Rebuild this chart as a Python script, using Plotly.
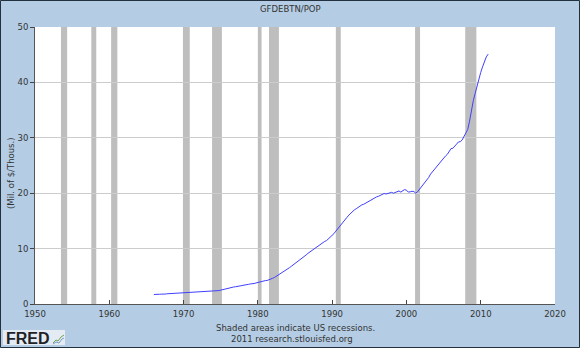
import pandas as pd
import plotly.graph_objects as go

# Federal debt per person (thousands of dollars), quarterly from 1966Q1
debt_per_person = [
    1.72, 1.70, 1.73, 1.76,
    1.78, 1.74, 1.79, 1.84,
    1.86, 1.84, 1.88, 1.91,
    1.92, 1.88, 1.91, 1.95,
    1.96, 1.95, 1.99, 2.03,
    2.04, 2.05, 2.09, 2.13,
    2.14, 2.13, 2.17, 2.21,
    2.24, 2.23, 2.26, 2.30,
    2.32, 2.31, 2.36, 2.42,
    2.50, 2.60, 2.70, 2.80,
    2.88, 2.93, 3.00, 3.07,
    3.12, 3.14, 3.22, 3.30,
    3.37, 3.39, 3.45, 3.55,
    3.62, 3.63, 3.70, 3.80,
    3.90, 3.95, 4.05, 4.15,
    4.22, 4.25, 4.35, 4.50,
    4.65, 4.80, 5.00, 5.25,
    5.45, 5.70, 5.90, 6.15,
    6.35, 6.55, 6.80, 7.05,
    7.25, 7.45, 7.70, 8.05,
    8.30, 8.55, 8.85, 9.15,
    9.40, 9.60, 9.85, 10.15,
    10.40, 10.60, 10.85, 11.10,
    11.30, 11.45, 11.75, 12.05,
    12.35, 12.70, 13.15, 13.60,
    13.95, 14.35, 14.85, 15.30,
    15.65, 16.05, 16.40, 16.75,
    17.00, 17.20, 17.45, 17.70,
    17.90, 18.00, 18.20, 18.40,
    18.55, 18.70, 18.85, 19.10,
    19.35, 19.45, 19.60, 19.80,
    19.95, 19.85, 19.95, 20.10,
    20.15, 20.00, 20.10, 20.30,
    20.40, 20.20, 20.45, 20.65,
    20.55, 20.20, 20.25, 20.35,
    20.30, 20.00, 20.25, 20.65,
    21.05, 21.45, 21.85, 22.35,
    22.85, 23.45, 23.85, 24.30,
    24.75, 25.05, 25.50, 26.00,
    26.45, 26.70, 27.00, 27.55,
    28.05, 28.10, 28.40, 28.85,
    29.25, 29.30, 29.60, 30.20,
    30.80, 31.50, 33.00, 35.10,
    36.70, 38.00, 39.40, 40.70,
    41.80, 42.80, 43.80, 44.60,
    45.10,
]
quarters = pd.date_range("1966-01-01", periods=len(debt_per_person), freq="QS")

# US recessions (NBER peak -> trough)
recession_start = ["1953-07-01", "1957-08-01", "1960-04-01", "1969-12-01", "1973-11-01",
                   "1980-01-01", "1981-07-01", "1990-07-01", "2001-03-01", "2007-12-01"]
recession_end = ["1954-05-01", "1958-04-01", "1961-02-01", "1970-11-01", "1975-03-01",
                 "1980-07-01", "1982-11-01", "1991-03-01", "2001-11-01", "2009-06-01"]

y_ticks = [0, 10, 20, 30, 40, 50]
x_ticks = ["1950", "1960", "1970", "1980", "1990", "2000", "2010", "2020"]

W, H = 580, 348
ML, MR, MT, MB = 35, 25, 27, 44
PW, PH = W - ML - MR, H - MT - MB

def px_x(p):
    return (p - ML) / PW

def px_y(p):
    return (H - MB - p) / PH

FONT = "DejaVu Sans"
TXT = "#333333"

fig = go.Figure()
fig.add_trace(go.Scatter(
    x=quarters, y=debt_per_person, mode="lines",
    line=dict(color="#4040ff", width=1), hoverinfo="skip", showlegend=False,
))

shapes = []
for s, e in zip(recession_start, recession_end):
    shapes.append(dict(type="rect", xref="x", yref="paper", x0=s, x1=e, y0=0, y1=1,
                       fillcolor="#bebebe", line=dict(width=0), layer="between"))

# outer frame of the whole graphic
shapes.append(dict(type="rect", xref="paper", yref="paper",
                   x0=px_x(0.5), x1=px_x(W - 0.5), y0=px_y(H - 0.5), y1=px_y(0.5),
                   line=dict(color="#23303d", width=1), fillcolor="rgba(0,0,0,0)", layer="above"))

# FRED badge
shapes.append(dict(type="rect", xref="paper", yref="paper",
                   x0=px_x(3), x1=px_x(65), y0=px_y(345), y1=px_y(330),
                   line=dict(width=0), fillcolor="#e4ebf2", layer="above"))
shapes.append(dict(type="path", xref="paper", yref="paper",
                   path=f"M {px_x(53)} {px_y(343)} L {px_x(56)} {px_y(340)} L {px_x(58)} {px_y(341)} "
                        f"L {px_x(61)} {px_y(337)} L {px_x(64)} {px_y(335)}",
                   line=dict(color="#6fa35a", width=1), layer="above"))
shapes.append(dict(type="path", xref="paper", yref="paper",
                   path=f"M {px_x(53)} {px_y(344)} L {px_x(56)} {px_y(342)} L {px_x(59)} {px_y(343)} "
                        f"L {px_x(62)} {px_y(339)} L {px_x(64)} {px_y(338)}",
                   line=dict(color="#7a9cc8", width=1), layer="above"))

def label(text, x, y, size=8.5, angle=0, family=FONT, color=TXT, xanchor="center"):
    return dict(text=text, xref="paper", yref="paper", x=px_x(x), y=px_y(y),
                xanchor=xanchor, yanchor="middle", showarrow=False, textangle=angle,
                font=dict(family=family, size=size, color=color))

annotations = [
    label("GFDEBTN/POP", 290, 9),
    label("(Mil. of $/Thous.)", 11, 173, angle=-90),
    label("Shaded areas indicate US recessions.", 295, 328),
    label("2011 research.stlouisfed.org", 292, 339),
    label("<b>FRED</b>", 4, 338, size=16, family="Liberation Sans", color="#1f2327",
          xanchor="left"),
]

fig.update_layout(
    width=W, height=H,
    margin=dict(l=ML, r=MR, t=MT, b=MB, pad=0),
    paper_bgcolor="#b4cde4", plot_bgcolor="#ffffff",
    shapes=shapes, annotations=annotations,
    xaxis=dict(
        type="date", range=["1950-01-01", "2020-01-01"],
        tickvals=[f"{t}-01-01" for t in x_ticks], ticktext=x_ticks,
        ticks="inside", ticklen=4, tickcolor="#444444",
        showline=True, linecolor="#555555", linewidth=1,
        showgrid=False, zeroline=False, ticklabelstandoff=2,
        tickfont=dict(family=FONT, size=8.5, color=TXT),
    ),
    yaxis=dict(
        range=[0, 50], tickvals=y_ticks, ticktext=[str(v) for v in y_ticks],
        ticks="outside", ticklen=4, tickcolor="#444444",
        showline=True, linecolor="#555555", linewidth=1,
        showgrid=True, gridcolor="#cccccc", gridwidth=1, zeroline=False,
        tickfont=dict(family=FONT, size=8.5, color=TXT),
    ),
)

fig.write_html("out.html")
